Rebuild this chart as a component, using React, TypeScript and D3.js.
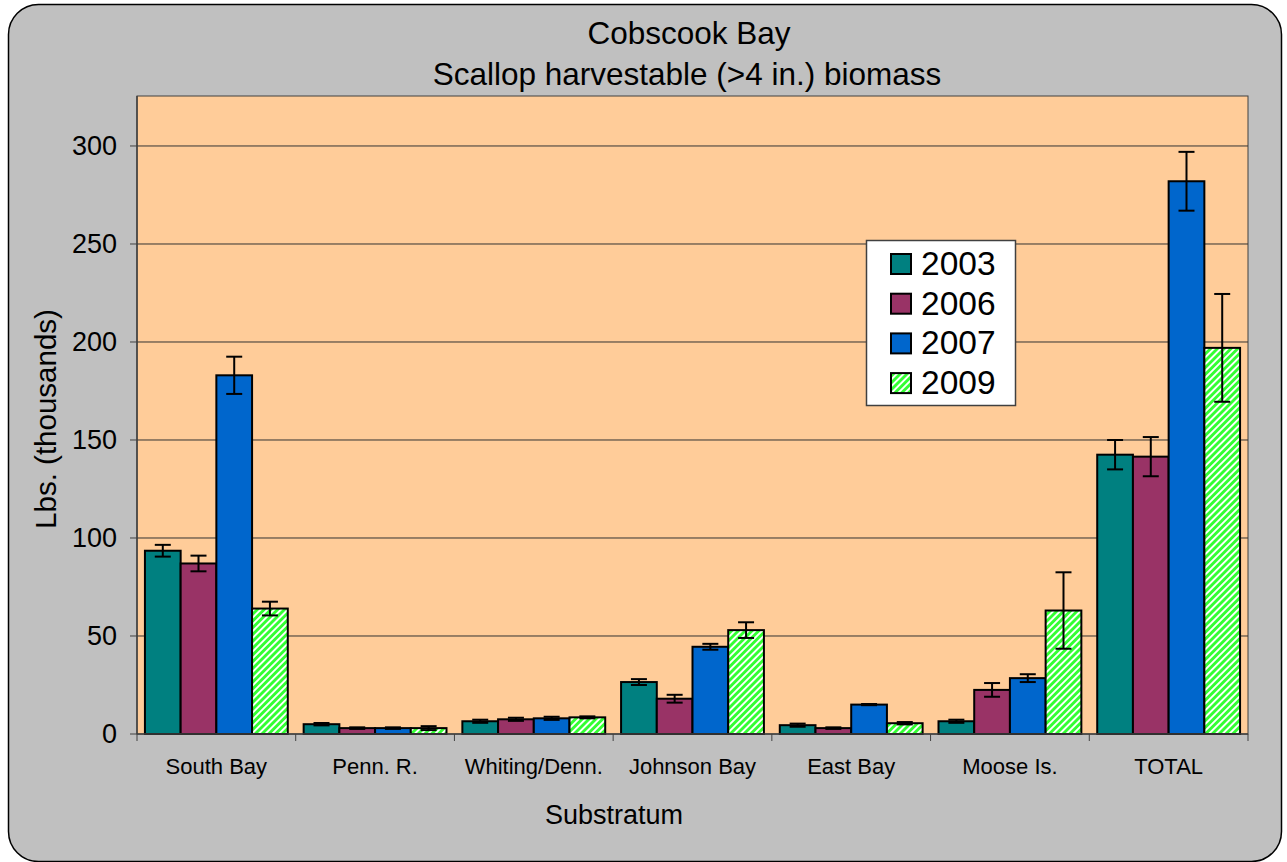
import React from 'react';
import * as d3 from 'd3';

const categories = ['South Bay', 'Penn. R.', 'Whiting/Denn.', 'Johnson Bay', 'East Bay', 'Moose Is.', 'TOTAL'];
const years = ['2003', '2006', '2007', '2009'];
const values2003 = [93.5, 5, 6.5, 26.5, 4.5, 6.5, 142.5];
const values2006 = [87, 3, 7.5, 18, 3, 22.5, 141.5];
const values2007 = [183, 3, 8, 44.5, 15, 28.5, 282];
const values2009 = [64, 3, 8.5, 53, 5.5, 63, 197];
const err2003 = [3, 0.6, 0.8, 1.5, 0.8, 0.8, 7.5];
const err2006 = [4, 0.4, 0.8, 2, 0.4, 3.5, 10];
const err2007 = [9.5, 0.4, 0.8, 1.5, 0.3, 2, 15];
const err2009 = [3.5, 1, 0.5, 4, 0.6, 19.5, 27.5];
const yTicks = [0, 50, 100, 150, 200, 250, 300];

const colors = ['#008080', '#993366', '#0066CC', 'url(#hatch)'];

const W = 1287;
const H = 862;
const plot = { left: 137, right: 1248, top: 96, bottom: 734 };
const font = 'Liberation Sans, Arial, sans-serif';

const App = () => {
    const series = [values2003, values2006, values2007, values2009];
    const errs = [err2003, err2006, err2007, err2009];

    const x0 = d3.scaleBand().domain(categories).range([plot.left, plot.right]).padding(0);
    const bw = x0.bandwidth();
    const x1 = d3.scaleBand().domain(years).range([bw * 0.05, bw * 0.95]).padding(0);
    const y = d3.scaleLinear().domain([0, 325.5]).range([plot.bottom, plot.top]);

    return (
        <svg width={W} height={H} style={{ position: 'absolute', left: 0, top: 0 }} fontFamily={font}>
            <defs>
                <pattern id="hatch" width="4.8" height="4.8" patternUnits="userSpaceOnUse" patternTransform="rotate(45)">
                    <rect width="4.8" height="4.8" fill="#33FF33" />
                    <rect width="1.9" height="4.8" fill="#FFFFFF" />
                </pattern>
            </defs>
            <rect x={8.5} y={4.5} width={1273} height={857} rx={30} fill="#C0C0C0" stroke="#000" strokeWidth={1.5} />

            <text x={689} y={44} textAnchor="middle" fontSize={31.5}>Cobscook Bay</text>
            <text x={687} y={85} textAnchor="middle" fontSize={31.5}>Scallop harvestable (&gt;4 in.) biomass</text>

            <rect x={plot.left} y={plot.top} width={plot.right - plot.left} height={plot.bottom - plot.top}
                fill="#FFCC99" stroke="#404040" strokeWidth={1} />

            {yTicks.filter(t => t > 0).map(t => (
                <line key={'g' + t} x1={plot.left} x2={plot.right} y1={y(t)} y2={y(t)} stroke="#333" strokeWidth={1} />
            ))}

            {series.map((vals, si) => (
                <g key={years[si]}>
                    {vals.map((v, ci) => {
                        const bx = (x0(categories[ci]) || 0) + (x1(years[si]) || 0);
                        return (
                            <rect key={ci} x={bx} y={y(v)} width={x1.bandwidth()} height={y(0) - y(v)}
                                fill={colors[si]} stroke="#000" strokeWidth={2} />
                        );
                    })}
                </g>
            ))}

            {series.map((vals, si) => (
                <g key={'e' + years[si]} stroke="#000" strokeWidth={2}>
                    {vals.map((v, ci) => {
                        const cx = (x0(categories[ci]) || 0) + (x1(years[si]) || 0) + x1.bandwidth() / 2;
                        const e = errs[si][ci];
                        return (
                            <g key={ci}>
                                <line x1={cx} x2={cx} y1={y(v + e)} y2={y(v - e)} />
                                <line x1={cx - 8} x2={cx + 8} y1={y(v + e)} y2={y(v + e)} />
                                <line x1={cx - 8} x2={cx + 8} y1={y(v - e)} y2={y(v - e)} />
                            </g>
                        );
                    })}
                </g>
            ))}

            <line x1={plot.left} x2={plot.left} y1={plot.top} y2={plot.bottom} stroke="#404040" strokeWidth={1.5} />
            <line x1={plot.left} x2={plot.right} y1={plot.bottom} y2={plot.bottom} stroke="#404040" strokeWidth={1.5} />

            {yTicks.map(t => (
                <g key={'t' + t}>
                    <line x1={plot.left - 7} x2={plot.left} y1={y(t)} y2={y(t)} stroke="#404040" strokeWidth={1} />
                    <text x={117} y={y(t) + 9} textAnchor="end" fontSize={27}>{t}</text>
                </g>
            ))}

            {categories.map((c, i) => (
                <line key={'xt' + i} x1={x0(c)} x2={x0(c)} y1={plot.bottom} y2={plot.bottom + 7} stroke="#404040" strokeWidth={1} />
            ))}
            <line x1={plot.right} x2={plot.right} y1={plot.bottom} y2={plot.bottom + 7} stroke="#404040" strokeWidth={1} />

            {categories.map(c => (
                <text key={'xl' + c} x={(x0(c) || 0) + bw / 2} y={774} textAnchor="middle" fontSize={22}>{c}</text>
            ))}

            <text x={614} y={824} textAnchor="middle" fontSize={27}>Substratum</text>
            <text transform="translate(56,419) rotate(-90)" textAnchor="middle" fontSize={29.5}>Lbs. (thousands)</text>

            <g>
                <rect x={866.5} y={240.5} width={149} height={165} fill="#FFFFFF" stroke="#404040" strokeWidth={1.5} />
                {years.map((yr, i) => {
                    const cy = 264 + i * 39.7;
                    return (
                        <g key={'lg' + yr}>
                            <rect x={891} y={cy - 10} width={20} height={20} fill={colors[i]} stroke="#000" strokeWidth={2} />
                            <text x={921} y={cy + 11} fontSize={33.5}>{yr}</text>
                        </g>
                    );
                })}
            </g>
        </svg>
    );
};

export default App;
